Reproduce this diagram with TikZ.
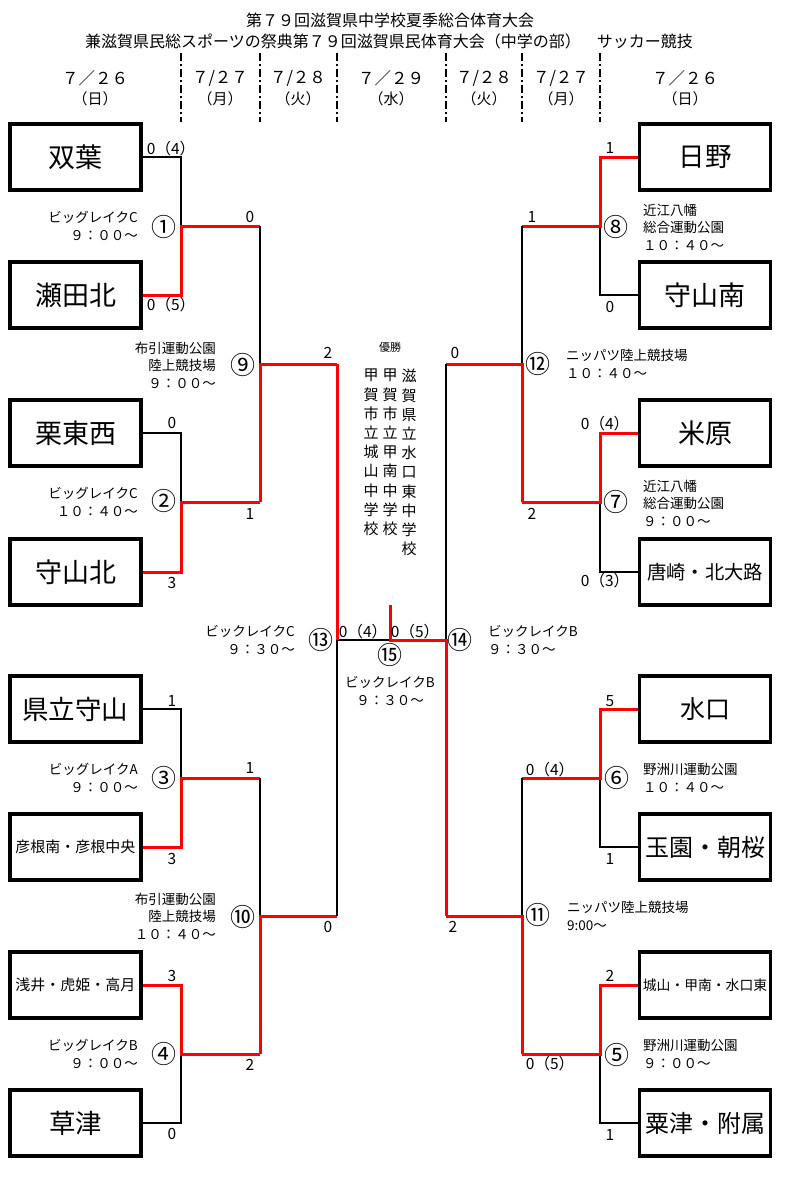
\documentclass[tikz,border=0pt]{standalone}
\usepackage{fontspec}
\setmainfont{Noto Sans CJK JP}

\tikzset{
	team/.style={draw, line width=3.5pt, minimum width=131pt, minimum height=66pt, inner sep=0pt},
	win/.style={red, line width=3pt},
	lose/.style={black, line width=2pt},
	score/.style={font=\fontsize{15.5}{15.5}\selectfont, inner sep=0pt},
	venue/.style={font=\fontsize{13.5}{17.5}\selectfont, inner sep=0pt},
	gameno/.style={font=\fontsize{25}{25}\selectfont, inner sep=0pt},
	dayline/.style={line width=1.5pt, dash pattern=on 8pt off 3pt on 2pt off 3pt},
	datetxt/.style={font=\fontsize{16.5}{16.5}\selectfont, inner sep=0pt},
	daytxt/.style={font=\fontsize{15}{15}\selectfont, inner sep=0pt},
	champ/.style={font=\fontsize{15}{19.2}\selectfont, align=center, inner sep=0pt, anchor=north}
}

\begin{document}
\begin{tikzpicture}[x=1pt,y=-1pt]
	\useasboundingbox (0,0) rectangle (790,1197);
	
	% Title
	\node[font=\fontsize{16}{16}\selectfont] (title1) at (390,20) {第７９回滋賀県中学校夏季総合体育大会};
	\node[font=\fontsize{16}{16}\selectfont] (title2) at (389,41) {兼滋賀県民総スポーツの祭典第７９回滋賀県民体育大会（中学の部）　サッカー競技};
	
	% Dates
	\node[datetxt] (d1) at (95,78) {７／２６};
	\node[daytxt] (w1) at (95,99) {（日）};
	\node[datetxt] (d2) at (220,78) {７/２７};
	\node[daytxt] (w2) at (220,99) {（月）};
	\node[datetxt] (d3) at (298,78) {７/２８};
	\node[daytxt] (w3) at (298,99) {（火）};
	\node[datetxt] (d4) at (391,78) {７／２９};
	\node[daytxt] (w4) at (391,99) {（水）};
	\node[datetxt] (d5) at (484,78) {７/２８};
	\node[daytxt] (w5) at (484,99) {（火）};
	\node[datetxt] (d6) at (561,78) {７/２７};
	\node[daytxt] (w6) at (561,99) {（月）};
	\node[datetxt] (d7) at (685,78) {７／２６};
	\node[daytxt] (w7) at (685,99) {（日）};
	
	\draw[dayline] (181,53) -- (181,122);
	\draw[dayline] (260,53) -- (260,122);
	\draw[dayline] (337,53) -- (337,122);
	\draw[dayline] (446,53) -- (446,122);
	\draw[dayline] (522,53) -- (522,122);
	\draw[dayline] (600,53) -- (600,122);
	
	% Teams, left
	\node[team, font=\fontsize{27}{27}\selectfont] (futaba) at (75.5,157) {双葉};
	\node[team, font=\fontsize{27}{27}\selectfont] (seta) at (75.5,295) {瀬田北};
	\node[team, font=\fontsize{27}{27}\selectfont] (rittoh) at (75.5,433) {栗東西};
	\node[team, font=\fontsize{27}{27}\selectfont] (moriyamakita) at (75.5,572) {守山北};
	\node[team, font=\fontsize{26.5}{26.5}\selectfont] (kenmoriyama) at (75.5,709) {県立守山};
	\node[team, font=\fontsize{15}{15}\selectfont] (hikone) at (75.5,847) {彦根南・彦根中央};
	\node[team, font=\fontsize{15}{15}\selectfont] (azai) at (75.5,985) {浅井・虎姫・高月};
	\node[team, font=\fontsize{26.5}{26.5}\selectfont] (kusatsu) at (75.5,1123) {草津};
	
	% Teams, right
	\node[team, font=\fontsize{26.5}{26.5}\selectfont] (hino) at (705,157) {日野};
	\node[team, font=\fontsize{27}{27}\selectfont] (moriyamaminami) at (705,295) {守山南};
	\node[team, font=\fontsize{27}{27}\selectfont] (maibara) at (705,433) {米原};
	\node[team, font=\fontsize{19.3}{19.3}\selectfont] (karasaki) at (705,572) {唐崎・北大路};
	\node[team, font=\fontsize{25}{25}\selectfont] (minakuchi) at (705,709) {水口};
	\node[team, font=\fontsize{24}{24}\selectfont] (tamazono) at (705,847) {玉園・朝桜};
	\node[team, font=\fontsize{13.8}{13.8}\selectfont] (joyama) at (705,985) {城山・甲南・水口東};
	\node[team, font=\fontsize{24}{24}\selectfont] (awazu) at (705,1123) {粟津・附属};
	
	% Match junctions
	\coordinate (m1) at (181,226);
	\coordinate (m2) at (181,502);
	\coordinate (m3) at (181,778);
	\coordinate (m4) at (181,1054);
	\coordinate (m9) at (260,364);
	\coordinate (m10) at (260,916);
	\coordinate (m13) at (337,640);
	\coordinate (m8) at (600,226);
	\coordinate (m7) at (600,502);
	\coordinate (m6) at (600,778);
	\coordinate (m5) at (600,1054);
	\coordinate (m12) at (522,364);
	\coordinate (m11) at (522,916);
	\coordinate (m14) at (446,640);
	\coordinate (m15) at (390,640);
	\coordinate (top) at (390,605);
	
	% Bracket, left
	\draw[lose] (futaba.east) -| (m1);
	\draw[win] (seta.east) -| (m1) -- (m1 -| m9);
	\draw[lose] (rittoh.east) -| (m2);
	\draw[win] (moriyamakita.east) -| (m2) -- (m2 -| m9);
	\draw[lose] (kenmoriyama.east) -| (m3);
	\draw[win] (hikone.east) -| (m3) -- (m3 -| m10);
	\draw[lose] (kusatsu.east) -| (m4);
	\draw[win] (azai.east) -| (m4) -- (m4 -| m10);
	\draw[lose] (m1 -| m9) -- (m9);
	\draw[win] (m2 -| m9) -- (m9) -- (m9 -| m13);
	\draw[lose] (m3 -| m10) -- (m10);
	\draw[win] (m4 -| m10) -- (m10) -- (m10 -| m13);
	\draw[lose] (m10 -| m13) -- (m13) -- (m15);
	\draw[win] (m9 -| m13) -- (m13);
	
	% Bracket, right
	\draw[lose] (moriyamaminami.west) -| (m8);
	\draw[win] (hino.west) -| (m8) -- (m8 -| m12);
	\draw[lose] (karasaki.west) -| (m7);
	\draw[win] (maibara.west) -| (m7) -- (m7 -| m12);
	\draw[lose] (tamazono.west) -| (m6);
	\draw[win] (minakuchi.west) -| (m6) -- (m6 -| m11);
	\draw[lose] (awazu.west) -| (m5);
	\draw[win] (joyama.west) -| (m5) -- (m5 -| m11);
	\draw[lose] (m8 -| m12) -- (m12);
	\draw[win] (m7 -| m12) -- (m12) -- (m12 -| m14);
	\draw[lose] (m6 -| m11) -- (m11);
	\draw[win] (m5 -| m11) -- (m11) -- (m11 -| m14);
	\draw[lose] (m12 -| m14) -- (m14);
	\draw[win] (m11 -| m14) -- (m14) -- (m15) -- (top);
	
	% Scores, left
	\node[score] (s1a) at (171,149) {0（4）};
	\node[score] (s1b) at (171,305) {0（5）};
	\node[score] (s2a) at (172,423) {0};
	\node[score] (s2b) at (172,583) {3};
	\node[score] (s3a) at (172,701) {1};
	\node[score] (s3b) at (172,859) {3};
	\node[score] (s4a) at (172,976) {3};
	\node[score] (s4b) at (172,1134) {0};
	\node[score] (s9a) at (250,217) {0};
	\node[score] (s9b) at (250,514) {1};
	\node[score] (s10a) at (250,768) {1};
	\node[score] (s10b) at (250,1065) {2};
	\node[score] (s13a) at (328,353) {2};
	\node[score] (s13b) at (328,927) {0};
	
	% Scores, right
	\node[score] (s8a) at (610,148) {1};
	\node[score] (s8b) at (610,307) {0};
	\node[score] (s7a) at (605,424) {0（4）};
	\node[score] (s7b) at (605,581) {0（3）};
	\node[score] (s6a) at (610,701) {5};
	\node[score] (s6b) at (610,859) {1};
	\node[score] (s5a) at (610,976) {2};
	\node[score] (s5b) at (610,1135) {1};
	\node[score] (s12a) at (532,217) {1};
	\node[score] (s12b) at (532,514) {2};
	\node[score] (s11a) at (550,770) {0（4）};
	\node[score] (s11b) at (550,1064) {0（5）};
	\node[score] (s14a) at (455,353) {0};
	\node[score] (s14b) at (453,927) {2};
	
	% Final
	\node[score] (s15a) at (363,632) {0（4）};
	\node[score] (s15b) at (415,632) {0（5）};
	
	% Champion
	\node[font=\fontsize{11}{11}\selectfont, inner sep=0pt] (yusho) at (390,347) {優勝};
	\node[champ] (c1) at (409,369) {滋\\賀\\県\\立\\水\\口\\東\\中\\学\\校};
	\node[champ] (c2) at (390,369) {甲\\賀\\市\\立\\甲\\南\\中\\学\\校};
	\node[champ] (c3) at (371,369) {甲\\賀\\市\\立\\城\\山\\中\\学\\校};
	
	% Game numbers
	\node[gameno] (g1) at (164,227) {①};
	\node[gameno] (g2) at (164,501) {②};
	\node[gameno] (g3) at (164,778) {③};
	\node[gameno] (g4) at (164,1054) {④};
	\node[gameno] (g5) at (617,1055) {⑤};
	\node[gameno] (g6) at (617,778) {⑥};
	\node[gameno] (g7) at (616,502) {⑦};
	\node[gameno] (g8) at (616,227) {⑧};
	\node[gameno] (g9) at (243,365) {⑨};
	\node[gameno] (g10) at (243,917) {⑩};
	\node[gameno] (g11) at (538,915) {⑪};
	\node[gameno] (g12) at (538,364) {⑫};
	\node[gameno] (g13) at (321,640) {⑬};
	\node[gameno] (g14) at (460,640) {⑭};
	\node[gameno] (g15) at (390,655) {⑮};
	
	% Venues, left
	\node[venue, align=right, anchor=east] (v1) at (138,226) {ビッグレイクC\\９：００～};
	\node[venue, align=right, anchor=east] (v2) at (138,502) {ビッグレイクC\\１０：４０～};
	\node[venue, align=right, anchor=east] (v3) at (138,778) {ビッグレイクA\\９：００～};
	\node[venue, align=right, anchor=east] (v4) at (138,1054) {ビッグレイクB\\９：００～};
	\node[venue, align=right, anchor=east] (v9) at (216,365) {布引運動公園\\陸上競技場\\９：００～};
	\node[venue, align=right, anchor=east] (v10) at (216,916) {布引運動公園\\陸上競技場\\１０：４０～};
	\node[venue, align=right, anchor=east] (v13) at (295,640) {ビックレイクC\\９：３０～};
	\node[venue, align=center] (v15) at (390,691) {ビックレイクB\\９：３０～};
	
	% Venues, right
	\node[venue, align=left, anchor=west] (v14) at (488,640) {ビックレイクB\\９：３０～};
	\node[venue, align=left, anchor=west] (v12) at (566,364) {ニッパツ陸上競技場\\１０：４０～};
	\node[venue, align=left, anchor=west] (v11) at (567,916) {ニッパツ陸上競技場\\9:00～};
	\node[venue, align=left, anchor=west] (v8) at (643,227) {近江八幡\\総合運動公園\\１０：４０～};
	\node[venue, align=left, anchor=west] (v7) at (643,503) {近江八幡\\総合運動公園\\９：００～};
	\node[venue, align=left, anchor=west] (v6) at (643,778) {野洲川運動公園\\１０：４０～};
	\node[venue, align=left, anchor=west] (v5) at (643,1054) {野洲川運動公園\\９：００～};
	
\end{tikzpicture}
\end{document}
